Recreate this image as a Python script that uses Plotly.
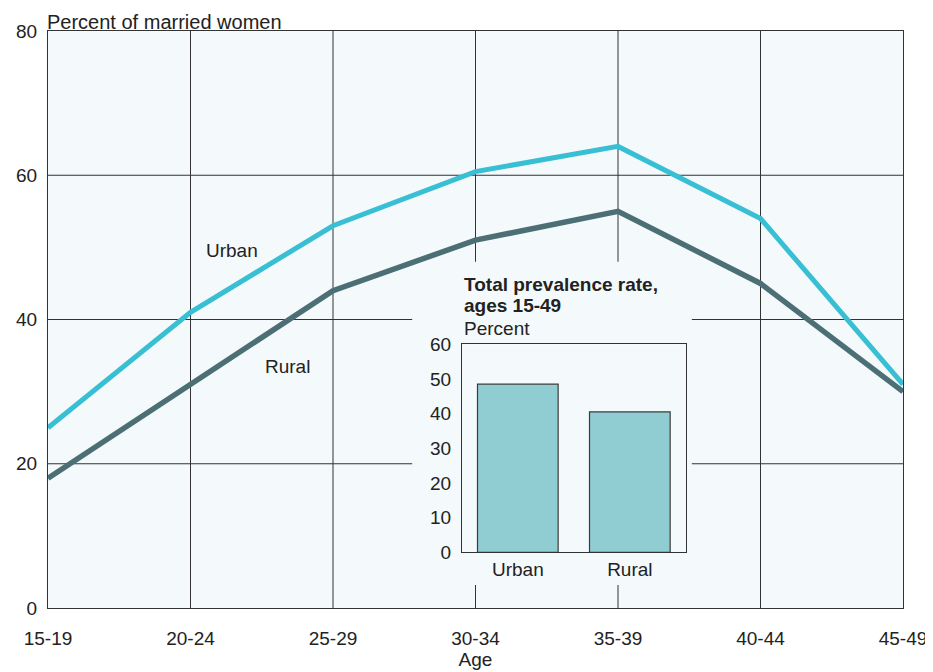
import plotly.graph_objects as go

age_groups = ["15-19", "20-24", "25-29", "30-34", "35-39", "40-44", "45-49"]
urban = [25, 41, 53, 60.5, 64, 54, 31]
rural = [18, 31, 44, 51, 55, 45, 30]

inset_cats = ["Urban", "Rural"]
inset_vals = [48.5, 40.5]

y_ticks = [0, 20, 40, 60, 80]
inset_ticks = [0, 10, 20, 30, 40, 50, 60]

FONT = "Liberation Sans, Arial, sans-serif"
BG = "#f4f9fb"
TXT = "#222222"
GRID = "#333333"

xpos = list(range(len(age_groups)))

fig = go.Figure()
fig.add_trace(go.Scatter(x=xpos, y=urban, mode="lines",
                         line=dict(color="#38bfd3", width=5), showlegend=False,
                         hoverinfo="skip"))
fig.add_trace(go.Scatter(x=xpos, y=rural, mode="lines",
                         line=dict(color="#4c6f76", width=5.5), showlegend=False,
                         hoverinfo="skip"))

fig.add_trace(go.Bar(x=inset_cats, y=inset_vals, xaxis="x2", yaxis="y2", width=0.72,
                     marker=dict(color="#8fcdd2", line=dict(color="#3a3a3a", width=1.2)),
                     showlegend=False, hoverinfo="skip"))

# gridlines drawn as shapes (below traces) so the inset panel can cover them
shapes = []
for xv in xpos[1:-1]:
    shapes.append(dict(type="line", xref="x", yref="y domain", x0=xv, x1=xv, y0=0, y1=1,
                       line=dict(color=GRID, width=1), layer="below"))
for yv in y_ticks[1:-1]:
    shapes.append(dict(type="line", xref="x domain", yref="y", x0=0, x1=1, y0=yv, y1=yv,
                       line=dict(color=GRID, width=1), layer="below"))
# inset panel background (breaks the gridlines)
shapes.append(dict(type="rect", xref="x domain", yref="y domain", x0=0.426, x1=0.753,
                   y0=0.040, y1=0.600, fillcolor=BG, line=dict(width=0), layer="below"))
shapes.append(dict(type="rect", xref="x domain", yref="y domain", x0=0.484, x1=0.746,
                   y0=0.0966, y1=0.457, fillcolor="white", line=dict(width=0), layer="below"))

fig.update_layout(
    width=925, height=664,
    margin=dict(l=40, r=30, t=23, b=64, autoexpand=False),
    paper_bgcolor="white",
    plot_bgcolor=BG,
    font=dict(family=FONT, size=19, color=TXT),
    xaxis=dict(
        range=[0, 6], tickmode="array", tickvals=xpos,
        ticktext=age_groups, showgrid=False,
        showline=True, linecolor=GRID, linewidth=1, mirror=True,
        ticks="", zeroline=False, ticklabelstandoff=13, automargin=False,
        title=dict(text="Age", font=dict(size=19), standoff=2),
        domain=[0, 1],
    ),
    yaxis=dict(
        range=[0, 80], tickmode="array", tickvals=y_ticks,
        showgrid=False,
        showline=True, linecolor=GRID, linewidth=1, mirror=True,
        ticks="", zeroline=False, ticklabelstandoff=6, automargin=False,
        domain=[0, 1],
    ),
    xaxis2=dict(
        domain=[0.484, 0.746], anchor="y2", showgrid=False, showline=True,
        linecolor=GRID, linewidth=1, mirror=True, ticks="",
        range=[-0.5, 1.5], ticklabelstandoff=0, automargin=False,
        tickfont=dict(size=19),
    ),
    yaxis2=dict(
        domain=[0.0966, 0.457], anchor="x2", range=[0, 60], tickmode="array",
        tickvals=inset_ticks, showgrid=False, showline=True, linecolor=GRID,
        linewidth=1, mirror=True, ticks="", zeroline=False, ticklabelstandoff=6,
        automargin=False, tickfont=dict(size=19),
    ),
    shapes=shapes,
    annotations=[
        dict(text="Percent of married women", xref="paper", yref="paper",
             x=-0.003, y=1, xanchor="left", yanchor="bottom", showarrow=False,
             font=dict(size=20), yshift=-4),
        dict(text="<b>Total prevalence rate,</b>", xref="paper", yref="paper",
             x=0.484, y=0.600, xanchor="left", yanchor="top", showarrow=False,
             font=dict(size=19), yshift=-10),
        dict(text="<b>ages 15-49</b>", xref="paper", yref="paper",
             x=0.484, y=0.600, xanchor="left", yanchor="top", showarrow=False,
             font=dict(size=19), yshift=-31),
        dict(text="Percent", xref="paper", yref="paper",
             x=0.484, y=0.600, xanchor="left", yanchor="top", showarrow=False,
             font=dict(size=19), yshift=-54),
        dict(text="Urban", x=1.29, y=49.5, xref="x", yref="y", showarrow=False,
             font=dict(size=19)),
        dict(text="Rural", x=1.68, y=33.5, xref="x", yref="y", showarrow=False,
             font=dict(size=19)),
    ],
)

fig.write_html("out.html")
